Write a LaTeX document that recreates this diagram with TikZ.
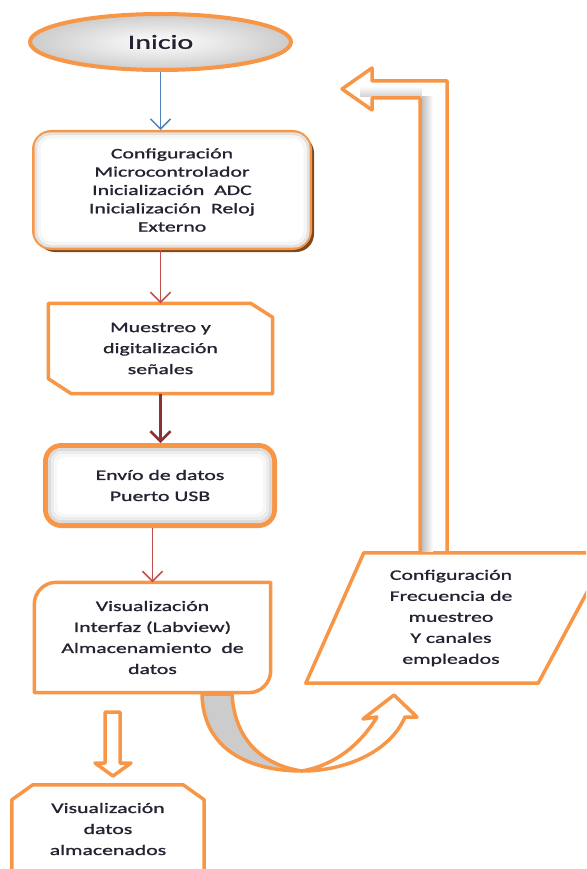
\documentclass[tikz,border=0pt]{standalone}
\usepackage{fontspec}
\setmainfont{Carlito}[FakeStretch=1.5, FakeBold=1.2]
\usepackage{tikz}
\usetikzlibrary{shapes}
\usetikzlibrary{shadows}
\usetikzlibrary{arrows.meta}
\definecolor{naranja}{RGB}{247,150,70}
\definecolor{cafe}{RGB}{125,72,30}
\definecolor{azul}{RGB}{79,129,189}
\definecolor{rojo}{RGB}{192,80,77}
\definecolor{rojod}{RGB}{140,50,50}
\definecolor{texto}{RGB}{35,35,50}
\tikzset{
    mynode/.style = {rectangle, align=center, inner sep=0pt, text=texto},
    mynodei/.style = {ellipse, line width=4pt, draw=naranja, inner color=white, outer color=gray!40, text=texto, font=\fontsize{20}{24}\selectfont},
    mynodec/.style = {rectangle, rounded corners=18pt, line width=3pt, draw=naranja, fill=white, align=center, text=texto, drop shadow={shadow xshift=3.5pt, shadow yshift=-3.5pt, fill=cafe, opacity=1}, font=\fontsize{14.5}{18.3}\selectfont},
    mynodeu/.style = {rectangle, rounded corners=16pt, line width=5pt, draw=naranja, fill=white, align=center, text=texto},
    edgeb/.style = {-{Straight Barb[length=10pt,width=20pt]}, line width=1.5pt, azul},
    edger/.style = {-{Straight Barb[length=10pt,width=20pt]}, line width=1.5pt, rojo},
    edgerd/.style = {-{Straight Barb[length=10pt,width=20pt]}, line width=2.5pt, rojod},
    edgeo/.style = {line width=3.5pt, naranja, line join=round},
    edgeg/.style = {line width=3pt, gray!28} % glow
}
\begin{document}
\begin{tikzpicture}[x=1pt, y=1pt, font=\fontsize{14.5}{21}\selectfont]
  \useasboundingbox (0,0) rectangle (586,-869);
  \clip (0,0) rectangle (586,-869);

  \node[mynodei, minimum width=261pt, minimum height=56pt] (ini) at (160.5,-42) {Inicio};
  \node[mynodec, minimum width=277pt, minimum height=117pt] (cfg) at (172,-190)
    {Configuración\\Microcontrolador\\Inicialización\ \ ADC\\Inicialización\ \ Reloj\\Externo};
  \node[mynode, minimum width=224pt, minimum height=90pt] (mu) at (160.5,-348.5)
    {Muestreo y\\digitalización\\señales};
  \node[mynodeu, minimum width=229pt, minimum height=80pt] (env) at (160,-485.5)
    {Envío de datos\\Puerto USB};
  \node[mynode, minimum width=236pt, minimum height=110pt] (vis) at (152.5,-637.5)
    {Visualización\\Interfaz (Labview)\\Almacenamiento\ \ de\\datos};
  \node[mynode, minimum width=290pt, minimum height=130pt] (p) at (451,-618)
    {Configuración\\Frecuencia de\\muestreo\\Y canales\\empleados};
  \node[mynode, minimum width=192pt, minimum height=88pt] (vd) at (108,-829)
    {Visualización\\datos\\almacenados};

  % outlines
  \draw[edgeg, gray!22, rounded corners=14pt] ([shift={(4pt,-4pt)}]cfg.north west) rectangle ([shift={(-4pt,4pt)}]cfg.south east);
  \draw[edgeg, gray!8, rounded corners=12pt] ([shift={(7pt,-7pt)}]cfg.north west) rectangle ([shift={(-7pt,7pt)}]cfg.south east);
  \draw[edgeo] (mu.north west) -- ([xshift=-22pt]mu.north east) -- ([yshift=-14pt]mu.north east)
    -- (mu.south east) -- ([xshift=23pt]mu.south west) -- ([yshift=15pt]mu.south west) -- cycle;
  \draw[edgeg, rounded corners=12pt] ([shift={(6.5pt,-6.5pt)}]env.north west) rectangle ([shift={(-6.5pt,6.5pt)}]env.south east);
  \draw[edgeg, gray!15, rounded corners=10pt] ([shift={(9.5pt,-9.5pt)}]env.north west) rectangle ([shift={(-9.5pt,9.5pt)}]env.south east);
  \draw[edgeg, gray!6, rounded corners=8pt] ([shift={(12.5pt,-12.5pt)}]env.north west) rectangle ([shift={(-12.5pt,12.5pt)}]env.south east);
  \draw[edgeo] (vis.north east) -- ([yshift=22pt]vis.south east) arc[start angle=0, end angle=-90, radius=22pt]
    -- (vis.south west) -- ([yshift=-22pt]vis.north west) arc[start angle=180, end angle=90, radius=22pt] -- cycle;
  \draw[edgeo] ([xshift=58pt]p.north west) -- ([xshift=12pt]p.north east) -- ([xshift=-58pt]p.south east) -- (p.south west) -- cycle;
  \draw[edgeo] (vd.south west) -- ([yshift=-15pt]vd.north west) -- ([xshift=21pt]vd.north west)
    -- ([xshift=-21pt]vd.north east) -- ([yshift=-15pt]vd.north east) -- (vd.south east);

  % connectors
  \draw[edgeb] (ini.south) -- (ini.south |- cfg.north);
  \draw[edger] (mu.north |- cfg.south) -- (mu.north);
  \draw[edgerd] (mu.south) -- (mu.south |- env.north);
  \draw[edger] (vis.north |- env.south) -- (vis.north);

  % block arrows
  \draw[edgeo] (105,-712) -- ++(0,-51) -- ++(-10,0) -- ++(18,-13) -- ++(18,13) -- ++(-11,0) -- ++(0,51) -- cycle;
  \draw[edgeo, fill=gray!40] (202,-694) .. controls (203,-750) and (250,-771) .. (302,-771)
    .. controls (268,-766) and (235,-745) .. (232,-694) -- cycle;
  \draw[edgeo, fill=white] (302,-771) .. controls (345,-771) and (390,-752) .. (405,-717) -- (417,-717) -- (394,-695)
    -- (363,-719) -- (377,-717) .. controls (360,-745) and (335,-765) .. (302,-771) -- cycle;
  \shade[left color=gray!50, right color=white] (421.75,-551) rectangle (433,-96.25);
  \shade[bottom color=gray!35, top color=white] (360,-96.25) rectangle (421.75,-86);
  \draw[edgeo] (420,-553) -- (420,-98) -- (372,-98) -- (372,-110) -- (342,-89) -- (372,-68) -- (372,-81)
    -- (447,-81) -- (447,-553);
\end{tikzpicture}
\end{document}
